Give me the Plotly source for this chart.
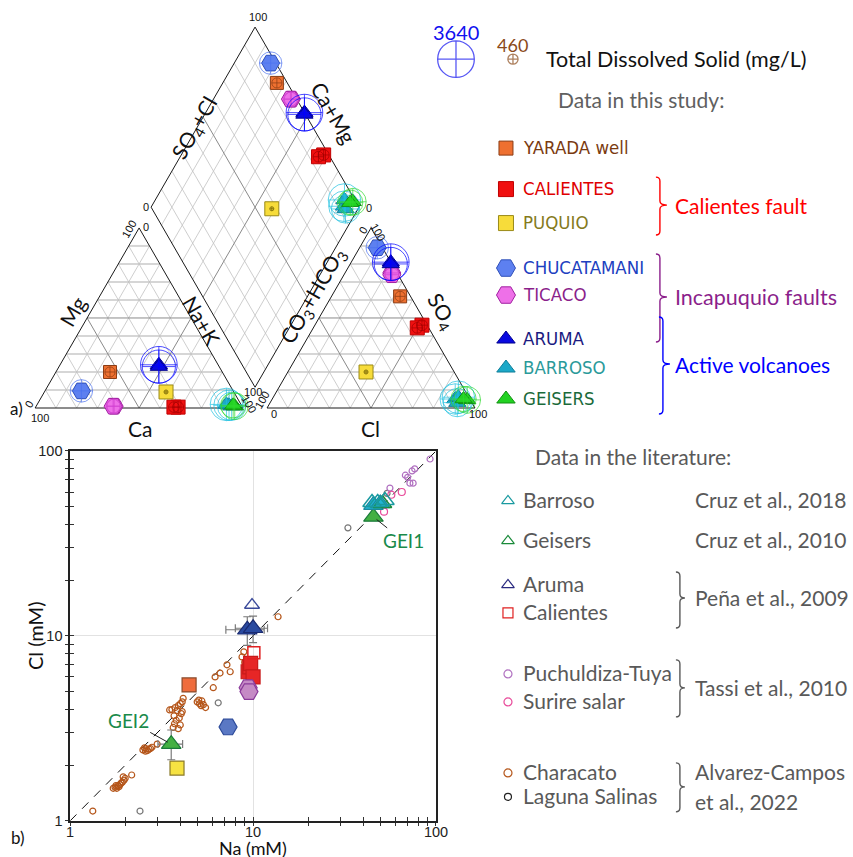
import math
import plotly.graph_objects as go

# The page is shown with the body's default 8px margin and the whole page is
# scaled into the picture; overlay coordinates below are picture pixels.
W, H = 853, 857
BODY = 8
SX, SY = W / (W + 2 * BODY), H / (H + 2 * BODY)
NUDGE_X = 4
L, R = BODY * SX - NUDGE_X, (BODY + W) * SX - NUDGE_X   # picture x of figure left / right edge
T, B = BODY * SY, (BODY + H) * SY                        # picture y of figure top / bottom edge

FONT = "Lato, 'Open Sans', sans-serif"
NARROW = "'DejaVu Sans Condensed', 'Liberation Sans Narrow', Lato, sans-serif"
NUM = "'Liberation Sans', Arial, sans-serif"

# ---------------- Piper samples (meq %) and total dissolved solids (mg/L) ----------------
piper_group = ["YARADA", "CALIENTES", "CALIENTES", "PUQUIO", "CHUCATAMANI",
               "TICACO", "TICACO", "ARUMA", "ARUMA",
               "BARROSO", "BARROSO", "BARROSO", "GEISERS", "GEISERS"]
ca   = [54.0, 31.0, 33.0, 32.6, 73.0, 61.5, 62.0, 28.5, 29.0, 6.0, 5.0, 7.0, 3.5, 4.0]
mg   = [20.0, 0.5, 0.5, 8.9, 9.5, 1.0, 1.0, 24.0, 23.0, 1.5, 1.0, 2.0, 1.0, 1.5]
nak  = [26.0, 68.5, 66.5, 58.5, 17.5, 37.5, 37.0, 47.5, 48.0, 92.5, 94.0, 91.0, 95.5, 94.5]
cl   = [33.0, 51.5, 50.0, 37.6, 8.5, 22.5, 23.0, 19.0, 19.5, 88.0, 90.0, 89.0, 94.0, 92.0]
so4  = [62.0, 46.0, 44.5, 20.0, 89.0, 75.0, 74.0, 81.0, 80.0, 5.0, 3.0, 6.0, 4.5, 5.0]
hco3 = [5.0, 2.5, 5.5, 42.4, 2.5, 2.5, 3.0, 0.0, 0.5, 7.0, 7.0, 5.0, 1.5, 3.0]
tds  = [460, 520, 500, 105, 1650, 800, 760, 3640, 3100, 2700, 2400, 3000, 2200, 2000]
tds_legend = [3640, 460]

# ---------------- Na vs Cl (mM), this study ----------------
aruma_na, aruma_cl = [9.3, 10.0], [10.8, 11.0]
aruma_na_err, aruma_cl_err = [2.2, 2.0], [1.9, 1.8]
calientes_na, calientes_cl = [9.4, 9.6, 9.7, 10.0], [6.4, 6.8, 7.1, 6.0]
ticaco_na, ticaco_cl = [9.4, 9.5], [5.25, 5.0]
chucatamani_na, chucatamani_cl = [7.3], [3.22]
yarada_na, yarada_cl = [4.47], [5.43]
puquio_na, puquio_cl = [3.84], [1.93]
geisers_na, geisers_cl = [45.5, 3.57], [44.0, 2.6]
geisers_na_err, geisers_cl_err, geisers_cl_errm = [0.0, 0.55], [0.0, 0.5], [0.0, 0.46]
geisers_names = ["GEI1", "GEI2"]
barroso_na, barroso_cl = [45.5, 49.6], [51.0, 52.0]

# ---------------- Na vs Cl (mM), literature ----------------
lit_barroso_na, lit_barroso_cl = [44.7, 48.0, 52.6], [52.7, 52.7, 54.0]
lit_geisers_na, lit_geisers_cl = [51.0], [52.0]
lit_aruma_na, lit_aruma_cl = [9.87], [14.7]
lit_calientes_na, lit_calientes_cl = [10.1], [8.1]
puchuldiza_na = [92.8, 76.5, 74.0, 68.0, 70.0, 72.0, 75.0, 56.0]
puchuldiza_cl = [90.5, 80.0, 78.0, 74.0, 72.0, 67.0, 67.0, 63.0]
surire_na, surire_cl = [65.0, 57.0, 52.0], [60.0, 58.0, 47.0]
characato_na = [1.33, 1.72, 1.76, 1.80, 1.83, 1.87, 1.90, 1.93, 1.97, 1.85, 1.78, 2.0, 1.95, 2.17,
                2.5, 2.55, 2.6, 2.65, 2.7, 2.75, 2.8, 2.58, 2.99,
                3.5, 3.6, 3.75, 3.85, 3.9, 4.0, 4.05, 4.1, 3.95, 3.8, 3.7, 3.66, 3.72, 4.0, 3.9, 4.1, 4.15,
                4.95, 5.1, 5.2, 5.35, 5.5, 5.25, 5.05,
                6.06, 6.2, 6.6, 7.2, 7.5, 8.7, 9.0, 9.3, 8.9, 13.7]
characato_cl = [1.13, 1.50, 1.52, 1.50, 1.55, 1.57, 1.60, 1.62, 1.66, 1.53, 1.55, 1.70, 1.73, 1.77,
                2.42, 2.48, 2.45, 2.40, 2.44, 2.46, 2.50, 2.38, 2.60,
                3.98, 4.0, 4.1, 3.95, 4.2, 4.3, 3.8, 4.4, 3.6, 3.5, 3.7, 3.2, 3.35, 3.3, 3.15, 3.9, 4.6,
                4.4, 4.3, 4.2, 4.25, 4.1, 4.45, 4.5,
                5.25, 6.0, 6.3, 6.98, 6.4, 7.7, 7.2, 6.8, 8.2, 12.7]
laguna_na, laguna_cl = [2.41, 6.45, 33.0, 54.0], [1.13, 4.35, 38.4, 59.0]
one_to_one = [1, 100]

# ---------------- styles ----------------
study = {
    "YARADA":      dict(sym="square",      fill="#ee7030", edge="#8a3c14", ring="#8a3c14", size=13, text="#7a3a10", label="YARADA well"),
    "CALIENTES":   dict(sym="square",      fill="#f01010", edge="#c00000", ring="#a00000", size=14, text="#e00000", label="CALIENTES"),
    "PUQUIO":      dict(sym="square",      fill="#f7dc3a", edge="#9a8a18", ring="#6a5a00", size=14, text="#857a1c", label="PUQUIO"),
    "CHUCATAMANI": dict(sym="hexagon2",    fill="#5d80f0", edge="#2f4fb8", ring="#4a70f0", size=18, text="#2040c0", label="CHUCATAMANI"),
    "TICACO":      dict(sym="hexagon2",    fill="#ee70e8", edge="#a020a0", ring="#d040d0", size=18, text="#8b1f8b", label="TICACO"),
    "ARUMA":       dict(sym="triangle-up", fill="#0a0ae0", edge="#000090", ring="#0000ff", size=15, text="#1a1a80", label="ARUMA"),
    "BARROSO":     dict(sym="triangle-up", fill="#1ca8c8", edge="#0f7f99", ring="#20c0e0", size=15, text="#2a9a9a", label="BARROSO"),
    "GEISERS":     dict(sym="triangle-up", fill="#22d222", edge="#119011", ring="#30d830", size=15, text="#1a6a3a", label="GEISERS"),
}
study_order = ["YARADA", "CALIENTES", "PUQUIO", "CHUCATAMANI", "TICACO", "ARUMA", "BARROSO", "GEISERS"]

# ---------------- Piper geometry (unit = triangle side) ----------------
SQ3 = math.sqrt(3) / 2
GAP = 24 / 208
PX = 208          # picture pixels per triangle side
X0, Y0 = 35, 408  # picture position of the Ca = 100 corner
BX, BY = 1 + GAP / 2, GAP * SQ3


def cation_xy(c, m, n):
    t = c + m + n
    return (n + m / 2) / t, m / t * SQ3


def anion_xy(c, s, b):
    t = c + s + b
    return 1 + GAP + (c + s / 2) / t, s / t * SQ3


def diamond_xy(a, c):
    return BX + 0.5 * (c - a), BY + SQ3 * (a + c)


def tds_size(v):
    return 36 * (v / 3640) ** 0.62 / SX


fig = go.Figure()


def seg_trace(segs, color, width, xa="x", ya="y"):
    xs, ys = [], []
    for (x1, y1), (x2, y2) in segs:
        xs += [x1, x2, None]
        ys += [y1, y2, None]
    return go.Scatter(x=xs, y=ys, mode="lines", line=dict(color=color, width=width),
                      hoverinfo="skip", showlegend=False, xaxis=xa, yaxis=ya)


horiz, diag, mid, outline = [], [], [], []
for ox in (0.0, 1 + GAP):
    for k in range(1, 10):
        t = k / 10
        a = ((ox + t / 2, t * SQ3), (ox + 1 - t / 2, t * SQ3))
        b = ((ox + t, 0), (ox + t + (1 - t) / 2, (1 - t) * SQ3))
        c = ((ox + 1 - t, 0), (ox + (1 - t) / 2, (1 - t) * SQ3))
        if k == 5:
            mid += [a, b, c]
        else:
            horiz.append(a)
            diag += [b, c]
    p = [(ox, 0), (ox + 1, 0), (ox + 0.5, SQ3)]
    outline += [(p[0], p[1]), (p[1], p[2]), (p[2], p[0])]

for k in range(1, 10):
    t = k / 10
    sa = (diamond_xy(t, 0), diamond_xy(t, 1))
    sc = (diamond_xy(0, t), diamond_xy(1, t))
    if k == 5:
        mid += [sa, sc]
    else:
        diag += [sa, sc]
d = [diamond_xy(0, 0), diamond_xy(1, 0), diamond_xy(1, 1), diamond_xy(0, 1)]
outline += [(d[0], d[1]), (d[1], d[2]), (d[2], d[3]), (d[3], d[0])]

fig.add_trace(seg_trace(horiz, "#d6d6d6", 2))
fig.add_trace(seg_trace(diag, "#c2c2c2", 0.8))
fig.add_trace(seg_trace(mid, "#8a8a8a", 1))
fig.add_trace(seg_trace(outline, "#1a1a1a", 1))

# Piper markers with TDS rings
for g in study_order:
    st = study[g]
    idx = [i for i, v in enumerate(piper_group) if v == g]
    xs, ys, sz = [], [], []
    for i in idx:
        for (x, y) in (cation_xy(ca[i], mg[i], nak[i]),
                       anion_xy(cl[i], so4[i], hco3[i]),
                       diamond_xy((ca[i] + mg[i]) / (ca[i] + mg[i] + nak[i]),
                                  (so4[i] + cl[i]) / (so4[i] + cl[i] + hco3[i]))):
            xs.append(x)
            ys.append(y)
            sz.append(tds_size(tds[i]))
    fig.add_trace(go.Scatter(x=xs, y=ys, mode="markers", showlegend=False, hoverinfo="skip",
                             cliponaxis=False,
                             marker=dict(symbol=st["sym"], size=st["size"], color=st["fill"],
                                         line=dict(color=st["edge"], width=1))))
    fig.add_trace(go.Scatter(x=xs, y=ys, mode="markers", showlegend=False, hoverinfo="skip",
                             cliponaxis=False,
                             marker=dict(symbol="circle-cross-open", size=sz, color=st["ring"],
                                         line=dict(color=st["ring"], width=1))))

# ---------------- Na vs Cl panel ----------------
XY2 = dict(xaxis="x2", yaxis="y2", showlegend=False, hoverinfo="skip", cliponaxis=False)

fig.add_trace(go.Scatter(x=one_to_one, y=one_to_one, mode="lines",
                         line=dict(color="#111", width=1, dash="9px,8px"), **XY2))


def open_pts(xv, yv, color, size, sym="circle-open", width=1.2):
    fig.add_trace(go.Scatter(x=xv, y=yv, mode="markers",
                             marker=dict(symbol=sym, size=size, color=color,
                                         line=dict(color=color, width=width)), **XY2))


open_pts(characato_na, characato_cl, "#b5561a", 6)
open_pts(laguna_na, laguna_cl, "#777777", 6)
open_pts(puchuldiza_na, puchuldiza_cl, "#b070c0", 6)
open_pts(surire_na, surire_cl, "#e84a9a", 7)

err = dict(color="#7a7a7a", thickness=1.2, width=4)


def filled_pts(xv, yv, g, size, fill, edge, ex=None, ey=None, eym=None):
    kw = {}
    if ex is not None:
        kw["error_x"] = dict(type="data", array=ex, **err)
    if ey is not None:
        kw["error_y"] = dict(type="data", array=ey, arrayminus=eym if eym else ey, **err)
    fig.add_trace(go.Scatter(x=xv, y=yv, mode="markers",
                             marker=dict(symbol=study[g]["sym"], size=size, color=fill,
                                         line=dict(color=edge, width=1.2)), **kw, **XY2))


filled_pts(yarada_na, yarada_cl, "YARADA", 14, "#ef6c3c", "#8a4a2a")
filled_pts(puquio_na, puquio_cl, "PUQUIO", 14, "#f6e242", "#8a7a2a")
filled_pts(chucatamani_na, chucatamani_cl, "CHUCATAMANI", 18, "#5a78c4", "#2c4a9a")
filled_pts(calientes_na, calientes_cl, "CALIENTES", 14, "#e62626", "#c81a1a")
filled_pts(ticaco_na, ticaco_cl, "TICACO", 18, "#c58ac5", "#8a3a9a")
filled_pts(aruma_na, aruma_cl, "ARUMA", 17, "#2a4aa0", "#1a2a70", aruma_na_err, aruma_cl_err)
open_pts(lit_aruma_na, lit_aruma_cl, "#3a4a9a", 13, "triangle-up-open", 1.3)
open_pts(lit_calientes_na, lit_calientes_cl, "#e02020", 12, "square-open", 1.5)
filled_pts(geisers_na, geisers_cl, "GEISERS", 17, "#43b043", "#1a7a3a",
           geisers_na_err, geisers_cl_err, geisers_cl_errm)
filled_pts(barroso_na, barroso_cl, "BARROSO", 17, "#22b4d4", "#1a8aa0")
open_pts(lit_geisers_na, lit_geisers_cl, "#1a8a3a", 16, "triangle-up-open", 1.5)
open_pts(lit_barroso_na, lit_barroso_cl, "#1a9aa0", 16, "triangle-up-open", 1.5)

ann = []
for name, xv, yv, ax, ay in zip(geisers_names, geisers_na, geisers_cl, [30, -43], [24, -24]):
    ann.append(dict(x=math.log10(xv), y=math.log10(yv), xref="x2", yref="y2", text=name,
                    showarrow=True, arrowhead=0, arrowwidth=1, arrowcolor="#222",
                    ax=ax, ay=ay, standoff=4,
                    font=dict(family=FONT, size=19, color="#1a8a4a")))

# ---------------- legend (picture-pixel overlay) ----------------
XY3 = dict(xaxis="x3", yaxis="y3", showlegend=False, hoverinfo="skip", cliponaxis=False)


def t3(x, y, text, size=18, color="#000", xanchor="left", family=FONT, angle=0, yanchor="middle"):
    ann.append(dict(x=x, y=y, xref="x3", yref="y3", text=text, showarrow=False,
                    xanchor=xanchor, yanchor=yanchor, textangle=angle,
                    font=dict(family=family, size=size, color=color)))


# TDS key
fig.add_trace(go.Scatter(x=[456, 513], y=[59, 59], mode="markers",
                         marker=dict(symbol="circle-cross-open", size=[tds_size(v) for v in tds_legend],
                                     color=["#1010f0", "#8a4a1a"],
                                     line=dict(color=["#1010f0", "#8a4a1a"], width=1.3)), **XY3))
t3(456, 32, str(tds_legend[0]), 20, "#1010f0", "center")
t3(513, 45, str(tds_legend[1]), 18, "#8a4a1a", "center")
t3(544, 59, "Total Dissolved Solid (mg/L)", 21.5, "#111")
t3(556, 99, "Data in this study:", 21, "#606060")

leg_y = [147, 188, 222, 267, 294, 338, 367, 398]
for g, y in zip(study_order, leg_y):
    st = study[g]
    fig.add_trace(go.Scatter(x=[506], y=[y + 1], mode="markers",
                             marker=dict(symbol=st["sym"], size=st["size"] + 1, color=st["fill"],
                                         line=dict(color=st["edge"], width=1)), **XY3))
    t3(521, y, st["label"], 18.5, st["text"], family=NARROW)


def brace(x, y0, y1, ym, color, tip=7, r=4):
    path = (f"M{x - r},{y0} Q{x},{y0} {x},{y0 + r} L{x},{ym - r} "
            f"Q{x},{ym} {x + tip},{ym} Q{x},{ym} {x},{ym + r} "
            f"L{x},{y1 - r} Q{x},{y1} {x - r},{y1}")
    return dict(type="path", path=path, xref="x3", yref="y3",
                line=dict(color=color, width=1.4))


shapes = [
    brace(660, 177, 235, 205, "#ff0000"),
    brace(660, 254, 342, 297, "#8b1f8b"),
    brace(663, 317, 414, 364, "#0000ff"),
    brace(680, 572, 628, 598, "#595959", 5),
    brace(680, 660, 717, 688, "#595959", 5),
    brace(680, 763, 812, 787, "#595959", 5),
]
t3(673, 205, "Calientes fault", 21, "#ff0000")
t3(673, 297, "Incapuquio faults", 21.5, "#8b1f8b")
t3(673, 364, "Active volcanoes", 21, "#0000ff")

GREY = "#595959"
t3(533, 457, "Data in the literature:", 21, GREY)
lit_rows = [("Barroso", 500, "triangle-up-open", "#1a9aa0", 11),
            ("Geisers", 540, "triangle-up-open", "#1a8a3a", 11),
            ("Aruma", 584, "triangle-up-open", "#2a2a80", 11),
            ("Calientes", 612, "square-open", "#e02020", 10),
            ("Puchuldiza-Tuya", 673, "circle-open", "#b070c0", 8),
            ("Surire salar", 701, "circle-open", "#e84a9a", 8),
            ("Characato", 772, "circle-open", "#b5561a", 8),
            ("Laguna Salinas", 796, "circle-open", "#222222", 7)]
for name, y, sym, col, s in lit_rows:
    fig.add_trace(go.Scatter(x=[508], y=[y + 1], mode="markers",
                             marker=dict(symbol=sym, size=s, color=col, line=dict(color=col, width=1.2)),
                             **XY3))
    t3(521, y, name, 21, GREY)
for txt, y in [("Cruz et al., 2018", 500), ("Cruz et al., 2010", 540), ("Peña et al., 2009", 598),
               ("Tassi et al., 2010", 688), ("Alvarez-Campos", 772), ("et al., 2022", 802)]:
    t3(693, y, txt, 21, GREY)

# Piper labels
t3(16, 408, "a)", 17, "#111", "center")
t3(18, 838, "b)", 17, "#111", "center")
t3(140, 428, "Ca", 21, "#111", "center")
t3(370, 428, "Cl", 21, "#111", "center")
t3(72, 311, "Mg", 21, "#111", "center", angle=-60)
t3(202, 320, "Na+K", 21, "#111", "center", angle=60)
t3(195, 128, "SO<sub>4</sub>+Cl", 21, "#111", "center", angle=-60)
t3(334, 112, "Ca+Mg", 21, "#111", "center", angle=60)
t3(313, 296, "CO<sub>3</sub>+HCO<sub>3</sub>", 21, "#111", "center", angle=-60)
t3(442, 312, "SO<sub>4</sub>", 21, "#111", "center", angle=60)
for x, y, s, ang in [(258, 17, "100", 0), (146, 207, "0", 0), (369, 208, "0", 0),
                     (40, 418, "100", 0), (29, 404, "0", -60), (129, 229, "100", -60),
                     (146, 227, "0", 0), (253, 392, "100", 0), (262, 400, "100", -60),
                     (249, 404, "100", 60), (274, 414, "0", 0), (363, 230, "0", -60),
                     (378, 232, "100", 60), (478, 414, "100", 0)]:
    t3(x, y, s, 11, "#111", "center", family=NUM, angle=ang)

# axis titles of the Na-Cl panel
t3(35, 636, "Cl (mM)", 20, "#111", "center", angle=-90)
t3(253, 848, "Na (mM)", 18, "#111", "center")

minor_vals = [2, 3, 4, 5, 6, 7, 8, 9, 20, 30, 40, 50, 60, 70, 80, 90]
log_axis = dict(type="log", range=[0, 2], tickvals=[1, 10, 100], ticktext=["1", "10", "100"],
                ticks="outside", ticklen=3, tickcolor="#333", tickwidth=1.2,
                minor=dict(tickvals=minor_vals, ticks="outside", ticklen=3, tickcolor="#333",
                           tickwidth=1, showgrid=False),
                showgrid=True, gridcolor="#e2e2e2", gridwidth=1, zeroline=False,
                showline=True, linecolor="#222", linewidth=1.5, mirror=True,
                tickfont=dict(family=NUM, size=14.5, color="#222"))
inner_axis = dict(type="log", range=[0, 2], tickvals=[1, 10, 100], ticks="inside", ticklen=4,
                  tickcolor="#333", tickwidth=1.2, showticklabels=False, showgrid=False,
                  zeroline=False, showline=False,
                  minor=dict(tickvals=minor_vals, ticks="inside", ticklen=4, tickcolor="#333",
                             tickwidth=1, showgrid=False))
fig.add_trace(go.Scatter(x=[None], y=[None], xaxis="x4", yaxis="y4", showlegend=False,
                         hoverinfo="skip"))


def dom_x(p0, p1):
    return [(p0 - L) / (R - L), (p1 - L) / (R - L)]


def dom_y(top, bottom):
    return [(B - bottom) / (B - T), (B - top) / (B - T)]


hidden = dict(visible=False, showgrid=False, zeroline=False, fixedrange=True)
fig.update_layout(
    width=W, height=H, autosize=False,
    margin=dict(l=0, r=0, t=0, b=0, pad=0),
    paper_bgcolor="white", plot_bgcolor="rgba(0,0,0,0)",
    showlegend=False,
    xaxis=dict(domain=[0, 1], range=[(L - X0) / PX, (R - X0) / PX], **hidden),
    yaxis=dict(domain=[0, 1], range=[(Y0 - B) / PX, (Y0 - T) / PX], **hidden),
    xaxis2=dict(domain=dom_x(70, 436), anchor="y2", ticklabelstandoff=-6, **log_axis),
    yaxis2=dict(domain=dom_y(451, 821), anchor="x2", **log_axis),
    xaxis3=dict(domain=[0, 1], range=[L, R], anchor="y3", **hidden),
    yaxis3=dict(domain=[0, 1], range=[B, T], anchor="x3", **hidden),
    xaxis4=dict(overlaying="x2", anchor="y4", side="bottom", **inner_axis),
    yaxis4=dict(overlaying="y2", anchor="x4", side="left", **inner_axis),
    annotations=ann, shapes=shapes,
)

fig.write_html("out.html")
